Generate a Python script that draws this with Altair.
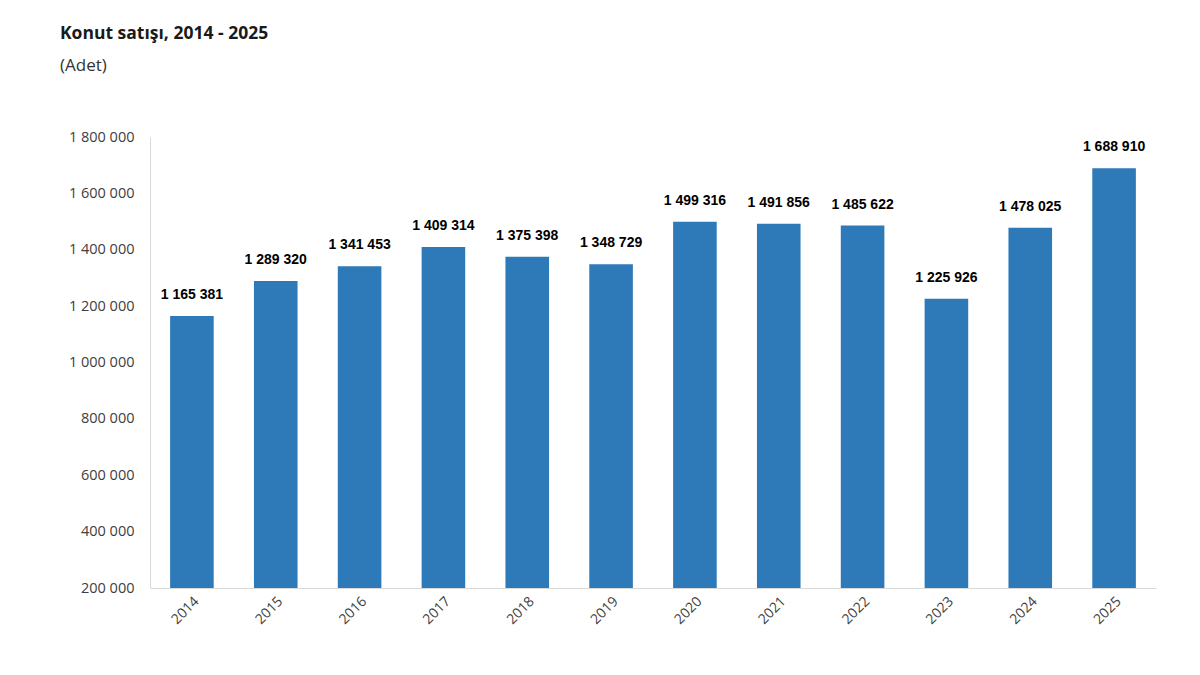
import altair as alt
import pandas as pd

YEARS = ["2014", "2015", "2016", "2017", "2018", "2019",
         "2020", "2021", "2022", "2023", "2024", "2025"]
SALES = [1165381, 1289320, 1341453, 1409314, 1375398, 1348729,
         1499316, 1491856, 1485622, 1225926, 1478025, 1688910]
Y_TICKS = [200000, 400000, 600000, 800000, 1000000, 1200000,
           1400000, 1600000, 1800000]

BAR = "#2e7ab8"
AXIS_LINE = "#d9d9d9"
LABEL = "#404040"
INK = "#1a1a1a"
SPACED = "replace(format({v}, ','), /,/g, ' ')"

df = pd.DataFrame({"Yil": YEARS, "Adet": SALES})

base = alt.Chart(df).encode(
    x=alt.X(
        "Yil:N",
        sort=YEARS,
        title=None,
        scale=alt.Scale(paddingInner=0.48, paddingOuter=0.24),
        axis=alt.Axis(
            labelAngle=-45,
            labelFont="Open Sans",
            labelFontSize=14,
            labelColor=LABEL,
            labelPadding=6,
            ticks=False,
            domainColor=AXIS_LINE,
        ),
    ),
    y=alt.Y(
        "Adet:Q",
        title=None,
        scale=alt.Scale(domain=[200000, 1800000], zero=False, nice=False),
        axis=alt.Axis(
            values=Y_TICKS,
            grid=False,
            ticks=False,
            labelFont="Open Sans",
            labelFontSize=14.5,
            labelColor=LABEL,
            labelPadding=16,
            domainColor=AXIS_LINE,
            labelExpr=SPACED.format(v="datum.value"),
        ),
    ),
)

bars = base.mark_bar(color=BAR, clip=True)

labels = (
    base.transform_calculate(txt=SPACED.format(v="datum.Adet"))
    .mark_text(
        dy=-21,
        font="Liberation Sans",
        fontSize=14,
        fontWeight="bold",
        color="#000000",
    )
    .encode(text="txt:N")
)

chart = (
    (bars + labels)
    .properties(
        width=1006,
        height=451,
        autosize=alt.AutoSizeParams(type="none"),
        padding={"left": 142, "top": 129, "right": 30, "bottom": 80},
        title=alt.TitleParams(
            text="Konut satışı, 2014 - 2025",
            subtitle="(Adet)",
            anchor="start",
            frame="group",
            dx=-90,
            offset=55,
            font="Open Sans",
            fontSize=17.5,
            fontWeight="bold",
            color=INK,
            subtitleFont="Open Sans",
            subtitleFontSize=17,
            subtitleColor="#333333",
            subtitlePadding=16,
        ),
    )
    .configure(background="#ffffff")
    .configure_view(strokeWidth=0)
)

chart.save("out.html", embed_options={"renderer": "svg", "actions": False})
